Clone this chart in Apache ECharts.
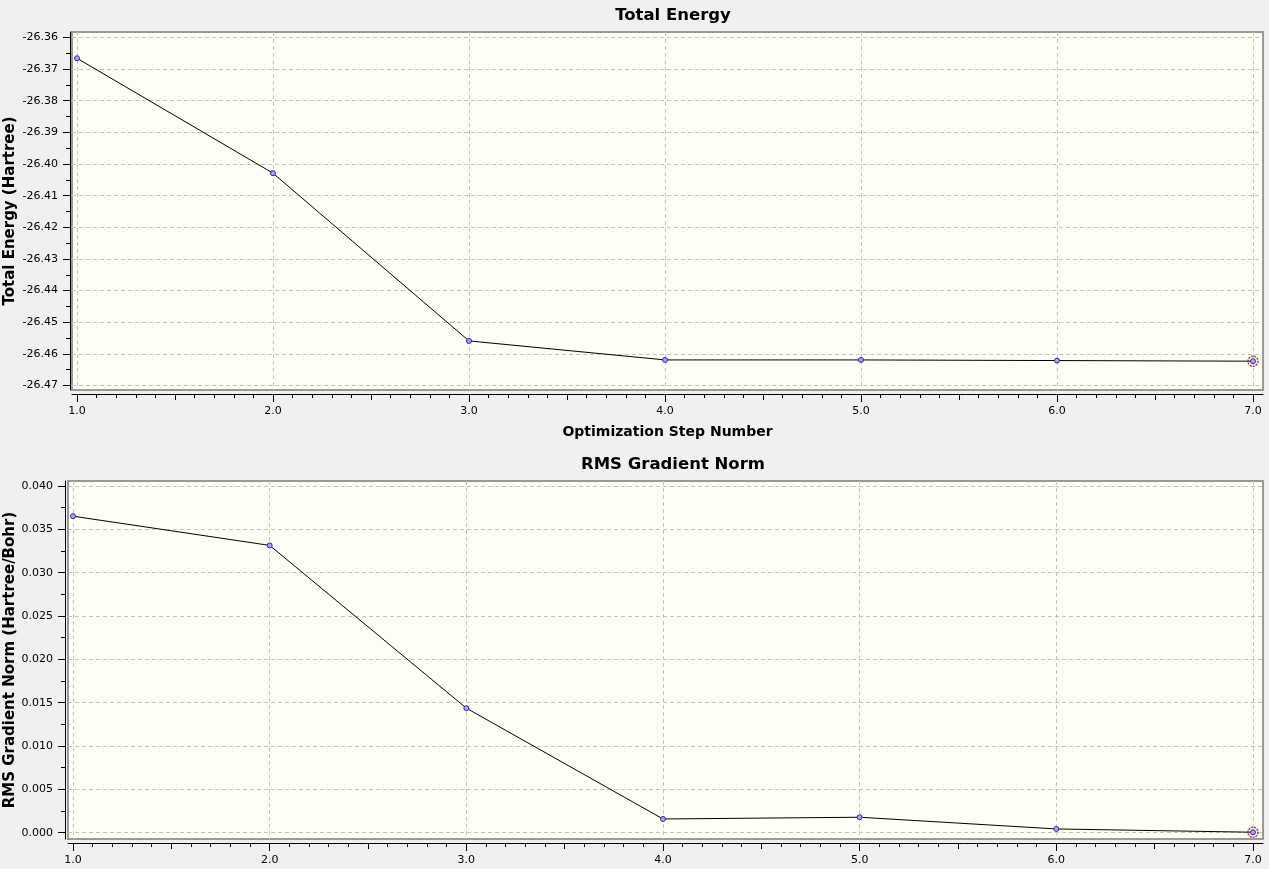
<!DOCTYPE html>
<html><head><meta charset="utf-8">
<script src="https://cdn.jsdelivr.net/npm/echarts@6/dist/echarts.min.js"></script>
<style>html,body{margin:0;padding:0;background:#f0f0f0;}#c{width:1269px;height:869px;}</style>
</head><body><div id="c"></div>
<script>
// ---- data ----
const steps = [1, 2, 3, 4, 5, 6, 7];
const totalEnergy = [-26.3666, -26.4029, -26.4559, -26.4619, -26.4619, -26.4621, -26.4623];
const rmsGradient = [0.03652, 0.03315, 0.01437, 0.00158, 0.00178, 0.00043, 0.00005];
const xTickLabels = ['1.0', '2.0', '3.0', '4.0', '5.0', '6.0', '7.0'];
const energyTicks = [-26.36, -26.37, -26.38, -26.39, -26.40, -26.41, -26.42, -26.43, -26.44, -26.45, -26.46, -26.47];
const gradientTicks = [0.000, 0.005, 0.010, 0.015, 0.020, 0.025, 0.030, 0.035, 0.040];
const titles = ['Total Energy', 'RMS Gradient Norm'];
const yNames = ['Total Energy (Hartree)', 'RMS Gradient Norm (Hartree/Bohr)'];
const xName = 'Optimization Step Number';

// ---- helpers ----
const xMajor = steps.slice();
const xHalf = [], xMinor = [];
for (let i = 0; i < steps.length - 1; i++) {
  for (let k = 1; k < 10; k++) {
    const v = +(steps[i] + k / 10).toFixed(2);
    if (k === 5) xHalf.push(v); else xMinor.push(v);
  }
}
function mids(arr) {
  const s = arr.slice().sort((a, b) => a - b), out = [];
  for (let i = 0; i < s.length - 1; i++) out.push(+((s[i] + s[i + 1]) / 2).toFixed(4));
  return out;
}
const FONT = 'DejaVu Sans';
const labelStyle = { color: '#000', fontFamily: FONT, fontSize: 11 };
const splitStyle = { show: true, lineStyle: { color: '#c4c4c4', type: [4, 3], width: 1 } };

const grids = [
  { left: 72, top: 32, width: 1191, height: 358 },
  { left: 68, top: 481, width: 1195, height: 358 }
];
const yRanges = [[-26.4714, -26.3583], [-0.00073, 0.04058]];
const yTicks = [energyTicks, gradientTicks];
const yDec = [2, 3];
const yOffsets = [2, 3];
const yNameGaps = [52, 47];
const xOffsets = [4, 4];
const seriesData = [totalEnergy, rmsGradient];

const xAxes = [], yAxes = [], series = [];
grids.forEach((g, gi) => {
  g.show = true; g.backgroundColor = '#fefef5'; g.borderColor = '#999'; g.borderWidth = 2;
  g.containLabel = false; g.outerBoundsMode = 'none';
  const base = { gridIndex: gi, type: 'value', position: 'bottom', min: 0.9745, max: 7.051, offset: xOffsets[gi] };
  xAxes.push(Object.assign({}, base, {
    name: gi === 0 ? xName : '',
    nameLocation: 'middle', nameGap: 31, nameMoveOverlap: false,
    nameTextStyle: { fontFamily: FONT, fontWeight: 'bold', fontSize: 14, color: '#000' },
    axisLine: { show: true, onZero: false, lineStyle: { color: '#000', width: 1 } },
    axisTick: { show: true, length: 8, customValues: xMajor, lineStyle: { color: '#000' } },
    axisLabel: Object.assign({ customValues: xMajor, margin: 12, formatter: v => xTickLabels[steps.indexOf(Math.round(v))] || '' }, labelStyle),
    splitLine: splitStyle
  }));
  xAxes.push(Object.assign({}, base, {
    axisLine: { show: false, onZero: false },
    axisTick: { show: true, length: 6, customValues: xHalf, lineStyle: { color: '#000' } },
    axisLabel: { show: false }, splitLine: { show: false }
  }));
  xAxes.push(Object.assign({}, base, {
    axisLine: { show: false, onZero: false },
    axisTick: { show: true, length: 4, customValues: xMinor, lineStyle: { color: '#000' } },
    axisLabel: { show: false }, splitLine: { show: false }
  }));
  const ybase = { gridIndex: gi, type: 'value', position: 'left', min: yRanges[gi][0], max: yRanges[gi][1], offset: yOffsets[gi] };
  yAxes.push(Object.assign({}, ybase, {
    name: yNames[gi], nameLocation: 'middle', nameGap: yNameGaps[gi], nameMoveOverlap: false,
    nameTextStyle: { fontFamily: FONT, fontWeight: 'bold', fontSize: 15, color: '#000' },
    axisLine: { show: true, onZero: false, lineStyle: { color: '#000', width: 1 } },
    axisTick: { show: true, length: 7, customValues: yTicks[gi], lineStyle: { color: '#000' } },
    axisLabel: Object.assign({ customValues: yTicks[gi], margin: 12, formatter: v => v.toFixed(yDec[gi]) }, labelStyle),
    splitLine: splitStyle
  }));
  yAxes.push(Object.assign({}, ybase, {
    axisLine: { show: false, onZero: false },
    axisTick: { show: true, length: 4, customValues: mids(yTicks[gi]), lineStyle: { color: '#000' } },
    axisLabel: { show: false }, splitLine: { show: false }
  }));
  const pts = steps.map((s, i) => [s, seriesData[gi][i]]);
  series.push({
    type: 'line', xAxisIndex: gi * 3, yAxisIndex: gi * 2, data: pts,
    symbol: 'circle', symbolSize: 5, showAllSymbol: true,
    lineStyle: { color: '#000', width: 1 },
    itemStyle: { color: '#a8a8f0', borderColor: '#2828a8', borderWidth: 1 },
    animation: false, silent: true, z: 3
  });
  series.push({
    type: 'scatter', xAxisIndex: gi * 3, yAxisIndex: gi * 2, data: [pts[pts.length - 1]],
    symbol: 'circle', symbolSize: 10,
    itemStyle: { color: 'rgba(0,0,0,0)', borderColor: '#b0102a', borderWidth: 1.5, borderType: [2, 1] },
    animation: false, silent: true, z: 4
  });
});

const chart = echarts.init(document.getElementById('c'), null, { renderer: 'canvas' });
chart.setOption({
  backgroundColor: '#f0f0f0',
  animation: false,
  title: [
    { text: titles[0], left: 668, textAlign: 'center', top: 2, textStyle: { fontFamily: FONT, fontWeight: 'bold', fontSize: 16.5, color: '#000' } },
    { text: titles[1], left: 668, textAlign: 'center', top: 451, textStyle: { fontFamily: FONT, fontWeight: 'bold', fontSize: 16.5, color: '#000' } }
  ],
  grid: grids, xAxis: xAxes, yAxis: yAxes, series: series
});
</script></body></html>
